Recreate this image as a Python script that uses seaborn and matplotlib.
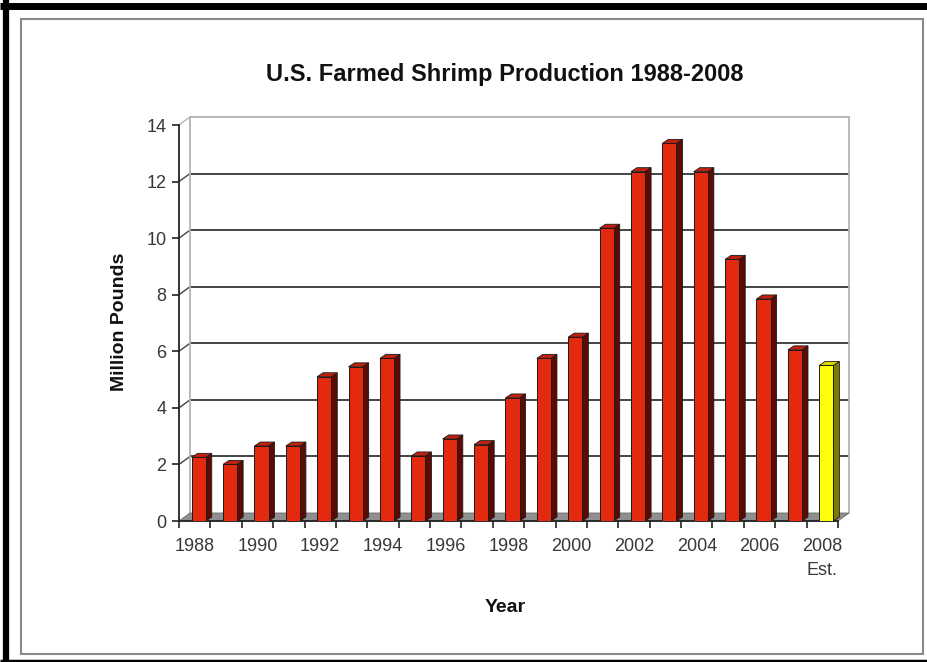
import matplotlib
matplotlib.use("Agg")
import matplotlib.pyplot as plt
from matplotlib.patches import Polygon, Rectangle
from matplotlib.lines import Line2D
import seaborn as sns
import pandas as pd
import numpy as np

# ---- data ----
years = [str(y) for y in range(1988, 2009)]
values = [2.25, 2.0, 2.65, 2.65, 5.1, 5.45, 5.75, 2.3, 2.9, 2.7, 4.35,
          5.75, 6.5, 10.35, 12.35, 13.35, 12.35, 9.25, 7.85, 6.05, 5.5]
kinds = ["Actual"] * 20 + ["Estimate"]
tick_labels = ["1988", "1990", "1992", "1994", "1996", "1998", "2000",
               "2002", "2004", "2006", "2008\nEst."]
title = "U.S. Farmed Shrimp Production 1988-2008"

df = pd.DataFrame({"Year": years, "Million Pounds": values, "Kind": kinds})

sns.set_theme(style="white")
plt.rcParams["font.family"] = ["Liberation Sans", "DejaVu Sans"]

W, H = 928, 662
fig = plt.figure(figsize=(W / 100, H / 100), dpi=100)
fig.patch.set_facecolor("white")

# front plane geometry (pixels, from top-left)
x0_px, x1_px, y0_px, y14_px = 179, 838, 521, 125
ax = fig.add_axes([x0_px / W, (H - y0_px) / H, (x1_px - x0_px) / W, (y0_px - y14_px) / H])
ax.set_facecolor("none")

face = {"Actual": "#e3290e", "Estimate": "#ffff0a"}
side = {"Actual": "#5c0a02", "Estimate": "#7d7d05"}
top = {"Actual": "#c02010", "Estimate": "#d8d800"}

sns.barplot(data=df, x="Year", y="Million Pounds", hue="Kind", palette=face,
            dodge=False, width=0.45, edgecolor="#1a1a1a", linewidth=0.7,
            legend=False, ax=ax, zorder=4, saturation=1)

ax.set_xlim(-0.5, len(years) - 0.5)
ax.set_ylim(0, 14)
fig.canvas.draw()

DX, DY = 11, 8        # wall depth in px
BDX, BDY = 6, 4       # bar depth in px
SHIFT = 4             # bar shift to mid-depth

def d2p(x, y):
    return ax.transData.transform((x, y))

def p2d(pts):
    return ax.transData.inverted().transform(np.asarray(pts))

def poly(pts_px, **kw):
    p = Polygon(p2d(pts_px), closed=True, clip_on=False, **kw)
    ax.add_patch(p)
    return p

def line(pts_px, **kw):
    d = p2d(pts_px)
    ax.add_line(Line2D(d[:, 0], d[:, 1], clip_on=False, **kw))

xl, xr = -0.5, len(years) - 0.5

# floor
fl = d2p(xl, 0); fr = d2p(xr, 0)
poly([fl, fr, fr + [DX, DY], fl + [DX, DY]], facecolor="#8f8f8f",
     edgecolor="#6a6a6a", linewidth=0.6, zorder=1.5)

# back wall gridlines and side-wall diagonals
for yv in range(2, 15, 2):
    a = d2p(xl, yv); b = d2p(xr, yv)
    col = "#444444" if yv < 14 else "#b5b5b5"
    line([a + [DX, DY], b + [DX, DY]], color=col, linewidth=1.4, zorder=1)
    line([a, a + [DX, DY]], color=col, linewidth=1.0, zorder=1)
# back wall left and right edges
a0 = d2p(xl, 0); a14 = d2p(xl, 14)
line([a0 + [DX, DY], a14 + [DX, DY]], color="#b5b5b5", linewidth=1.3, zorder=1)
b0 = d2p(xr, 0); b14 = d2p(xr, 14)
line([b0 + [DX, DY], b14 + [DX, DY]], color="#b5b5b5", linewidth=1.3, zorder=1)

# 3D faces for each bar
bars = [p for p in ax.patches if isinstance(p, Rectangle) and p.get_height() > 0 and p.get_zorder() == 4]
bars = sorted(bars, key=lambda p: p.get_x())
for p, kind in zip(bars, kinds):
    x, w, h = p.get_x(), p.get_width(), p.get_height()
    bl = d2p(x, 0) + [SHIFT, 0]; br = d2p(x + w, 0) + [SHIFT, 0]
    tl = d2p(x, h) + [SHIFT, 0]; tr = d2p(x + w, h) + [SHIFT, 0]
    p.set_xy(p2d([bl])[0])
    poly([br, tr, tr + [BDX, BDY], br + [BDX, BDY]], facecolor=side[kind],
         edgecolor="#1a1a1a", linewidth=0.6, zorder=3.9)
    poly([tl, tr, tr + [BDX, BDY], tl + [BDX, BDY]], facecolor=top[kind],
         edgecolor="#1a1a1a", linewidth=0.6, zorder=3.9)

# axes styling
for s in ["top", "right"]:
    ax.spines[s].set_visible(False)
for s in ["left", "bottom"]:
    ax.spines[s].set_color("#222222")
    ax.spines[s].set_linewidth(1.3)
ax.set_yticks(range(0, 15, 2))
ax.tick_params(axis="y", direction="out", length=5, width=1.2, color="#222222",
               labelsize=13, labelcolor="#383838", pad=4, left=True)
ax.set_xticks(range(0, len(years), 2))
ax.set_xticklabels(tick_labels, linespacing=1.6)
ax.set_xticks(np.arange(-0.5, len(years), 1.0), minor=True)
ax.tick_params(axis="x", which="major", length=0, labelsize=13,
               labelcolor="#383838", pad=12)
ax.tick_params(axis="x", which="minor", direction="out", length=5, width=1.2,
               color="#222222", bottom=True)
ax.grid(False)

ax.set_xlabel("")
ax.set_ylabel("")
fig.text(505 / W, 1 - 75 / H, title, ha="center", va="center",
         fontsize=17, fontweight="bold", color="#111111")
fig.text(119 / W, 1 - 322 / H, "Million Pounds", ha="center", va="center",
         rotation=90, fontsize=14, fontweight="bold", color="#111111")
fig.text(505 / W, 1 - 608 / H, "Year", ha="center", va="center",
         fontsize=14, fontweight="bold", color="#111111")

# frames
def fline(xs, ys, **kw):
    fig.add_artist(Line2D([x / W for x in xs], [1 - y / H for y in ys],
                          transform=fig.transFigure, **kw))

fline([0, W], [5.5, 5.5], color="black", linewidth=5.0, solid_capstyle="butt")
fline([6, 6], [0, H], color="black", linewidth=4.5, solid_capstyle="butt")
fline([0, W], [661, 661], color="black", linewidth=2.5, solid_capstyle="butt")
fig.add_artist(Rectangle((21 / W, 1 - 654 / H), (923 - 21) / W, (654 - 19) / H,
                         transform=fig.transFigure, fill=False,
                         edgecolor="#8a8a8a", linewidth=1.5))

fig.savefig("out.png", dpi=100)
